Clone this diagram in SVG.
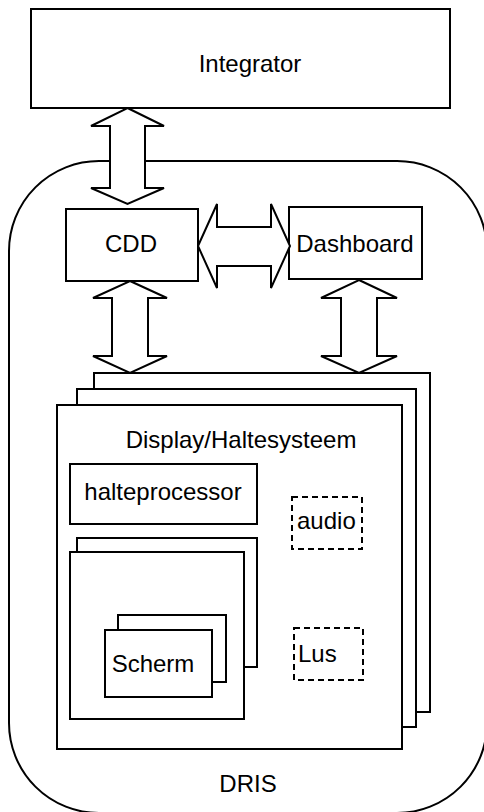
<svg xmlns="http://www.w3.org/2000/svg" width="484" height="812" viewBox="0 0 484 812">
<style>
.box{fill:#fff;stroke:#000;stroke-width:2}
.dash{fill:#fff;stroke:#000;stroke-width:2;stroke-dasharray:6 4}
.arrow{fill:#fff;stroke:#000;stroke-width:2;stroke-linejoin:miter}
text{font-family:"Liberation Sans",Arial,sans-serif;font-size:24px;fill:#000}
.c{text-anchor:middle}
</style>
<rect width="484" height="812" fill="#fff"/>
<g id="dris">
<rect class="box" x="9" y="161" width="478" height="652" rx="90" ry="90"/>
<text class="c" x="248" y="792">DRIS</text>
</g>
<g id="integrator">
<rect class="box" x="31" y="9" width="419" height="99"/>
<text class="c" x="250" y="72">Integrator</text>
</g>
<g id="cdd">
<rect class="box" x="66" y="209" width="132" height="72"/>
<text class="c" x="131" y="252">CDD</text>
</g>
<g id="dashboard">
<rect class="box" x="289" y="207" width="133" height="72"/>
<text class="c" x="355" y="252">Dashboard</text>
</g>
<g id="display">
<rect class="box" x="94" y="373" width="336" height="339"/>
<rect class="box" x="77" y="389" width="339" height="338"/>
<rect class="box" x="57" y="405" width="345" height="344"/>
<text class="c" x="241" y="448">Display/Haltesysteem</text>
</g>
<g id="halteprocessor">
<rect class="box" x="70" y="464" width="187" height="60"/>
<text class="c" x="163" y="500">halteprocessor</text>
</g>
<g id="audio">
<rect class="dash" x="292" y="497" width="70" height="52"/>
<text x="297" y="529">audio</text>
</g>
<g id="schermen">
<rect class="box" x="77" y="538" width="180" height="129"/>
<rect class="box" x="70" y="552" width="174" height="167"/>
</g>
<g id="scherm">
<rect class="box" x="118" y="615" width="108" height="67"/>
<rect class="box" x="105" y="630" width="107" height="67"/>
<text class="c" x="153" y="672">Scherm</text>
</g>
<g id="lus">
<rect class="dash" x="294" y="628" width="69" height="52"/>
<text x="298" y="662">Lus</text>
</g>
<g id="connectors">
<polygon class="arrow" points="127.5,108 164,126 145,126 145,188 164,188 127.5,204 91,188 110,188 110,126 91,126"/>
<polygon class="arrow" points="198,246 217,204 217,227 271,227 271,204 290,246 271,288 271,266 217,266 217,288"/>
<polygon class="arrow" points="130,281 167,298 148,298 148,356 167,356 130,373 93,356 112,356 112,298 93,298"/>
<polygon class="arrow" points="359,280 397,298 377,298 377,356 397,356 359,373 321,356 341,356 341,298 321,298"/>
</g>
</svg>
